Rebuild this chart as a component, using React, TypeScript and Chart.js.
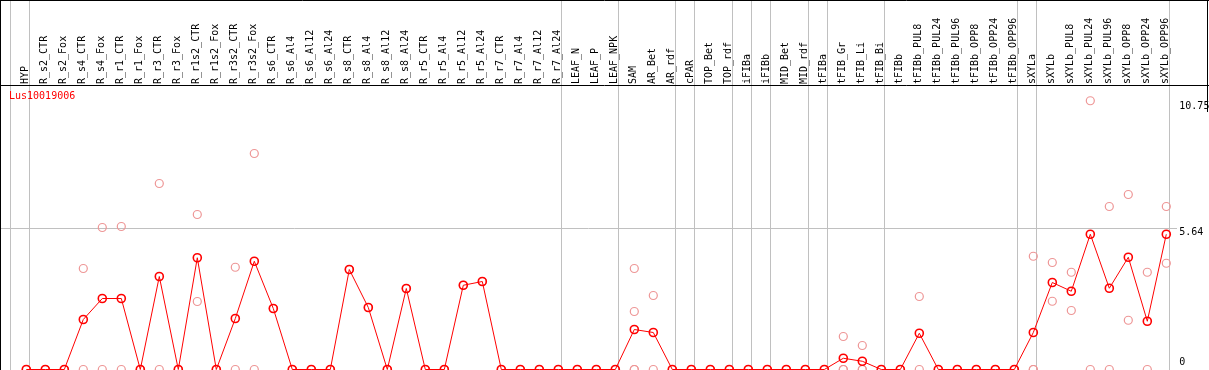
import React, { useEffect, useRef } from "react";
import { Chart, registerables } from "chart.js";

Chart.register(...registerables);

const title = "Lus10019006";

const categories = [
  "HYP", "R_s2_CTR", "R_s2_Fox", "R_s4_CTR", "R_s4_Fox", "R_r1_CTR", "R_r1_Fox", "R_r3_CTR", "R_r3_Fox",
  "R_r1s2_CTR", "R_r1s2_Fox", "R_r3s2_CTR", "R_r3s2_Fox", "R_s6_CTR", "R_s6_Al4", "R_s6_Al12", "R_s6_Al24",
  "R_s8_CTR", "R_s8_Al4", "R_s8_Al12", "R_s8_Al24", "R_r5_CTR", "R_r5_Al4", "R_r5_Al12", "R_r5_Al24",
  "R_r7_CTR", "R_r7_Al4", "R_r7_Al12", "R_r7_Al24", "LEAF_N", "LEAF_P", "LEAF_NPK", "SAM", "AR_Bet", "AR_rdf",
  "cPAR", "TOP_Bet", "TOP_rdf", "iFIBa", "iFIBb", "MID_Bet", "MID_rdf", "tFIBa", "tFIB_Gr", "tFIB_Li", "tFIB_Bi",
  "tFIBb", "tFIBb_PUL8", "tFIBb_PUL24", "tFIBb_PUL96", "tFIBb_OPP8", "tFIBb_OPP24", "tFIBb_OPP96",
  "sXYLa", "sXYLb", "sXYLb_PUL8", "sXYLb_PUL24", "sXYLb_PUL96", "sXYLb_OPP8", "sXYLb_OPP24", "sXYLb_OPP96",
];

const meanValues = [
  0, 0, 0, 2.0, 2.84, 2.84, 0, 3.72, 0,
  4.47, 0, 2.04, 4.33, 2.44, 0, 0, 0,
  4.0, 2.48, 0, 3.24, 0, 0, 3.37, 3.52,
  0, 0, 0, 0, 0, 0, 0, 1.6, 1.48, 0,
  0, 0, 0, 0, 0, 0, 0, 0, 0.45, 0.33, 0,
  0, 1.45, 0, 0, 0, 0, 0,
  1.48, 3.48, 3.13, 5.41, 3.25, 4.49, 1.93, 5.41,
];

const replicateValues: number[][] = [
  [0], [0], [0], [4.04, 0], [5.68, 0], [5.72, 0], [0], [7.44, 0], [0],
  [6.2, 2.72], [0], [4.09, 0], [8.64, 0], [2.44], [0], [0], [0],
  [4.0], [2.48], [0], [3.24], [0], [0], [3.37], [3.52],
  [0], [0], [0], [0], [0], [0], [0], [4.04, 2.32, 0, 0], [2.96, 0], [0],
  [0], [0], [0], [0], [0], [0], [0], [0], [1.32, 0, 0], [0.96, 0, 0], [0],
  [0], [2.92, 0], [0], [0], [0], [0], [0],
  [4.53, 0, 0], [4.28, 2.73], [3.89, 2.36], [10.75, 0], [6.52, 0], [7.0, 1.97], [3.89, 0], [6.52, 4.25],
];

// index of last category in each group (group separators drawn right after)
const groupEnds = [-1, 0, 28, 31, 34, 35, 37, 38, 39, 41, 42, 45, 52, 53, 60];

const yTickValues = [0, 5.64, 10.75];
const yGridValues = [5.64];

const FONT = "10px 'DejaVu Sans Mono', monospace";

const decorPlugin = {
  id: "decor",
  beforeDatasetsDraw(chart: any) {
    const ctx = chart.ctx;
    const xs = chart.scales.x;
    const ys = chart.scales.y;
    const W = chart.width;
    const H = chart.height;
    ctx.save();
    ctx.strokeStyle = "#c0c0c0";
    ctx.lineWidth = 1;
    groupEnds.forEach((g) => {
      const px = Math.round(xs.getPixelForValue(g) + 4) - 0.5;
      ctx.beginPath();
      ctx.moveTo(px, 0);
      ctx.lineTo(px, H);
      ctx.stroke();
    });
    const rightEdge = Math.round(xs.getPixelForValue(60) + 4);
    yGridValues.forEach((v) => {
      const py = Math.round(ys.getPixelForValue(v)) - 0.5;
      ctx.beginPath();
      ctx.moveTo(0, py);
      ctx.lineTo(rightEdge + 7, py);
      ctx.stroke();
    });
    // frame
    ctx.strokeStyle = "#000";
    ctx.beginPath();
    ctx.moveTo(0.5, 0);
    ctx.lineTo(0.5, H);
    ctx.moveTo(0, 0.5);
    ctx.lineTo(W, 0.5);
    ctx.moveTo(0, 85.5);
    ctx.lineTo(W, 85.5);
    ctx.moveTo(W - 1.5, 0);
    ctx.lineTo(W - 1.5, 112);
    const zy = Math.round(ys.getPixelForValue(0)) + 0.5;
    ctx.moveTo(0, zy);
    ctx.lineTo(rightEdge, zy);
    ctx.stroke();
    ctx.restore();
  },
  afterDatasetsDraw(chart: any) {
    const ctx = chart.ctx;
    const xs = chart.scales.x;
    const ys = chart.scales.y;
    ctx.save();
    ctx.font = FONT;
    ctx.fillStyle = "#000";
    categories.forEach((c, i) => {
      const px = xs.getPixelForValue(i);
      ctx.save();
      ctx.translate(px - 0.5, 84);
      ctx.rotate(-Math.PI / 2);
      ctx.textAlign = "left";
      ctx.textBaseline = "middle";
      ctx.fillText(c, 0, 0);
      ctx.restore();
    });
    // y tick labels
    const lx = xs.getPixelForValue(60) + 13;
    yTickValues.forEach((v) => {
      const py = ys.getPixelForValue(v);
      ctx.textAlign = "left";
      if (v === 0) {
        ctx.textBaseline = "bottom";
        ctx.fillText(String(v), lx, py - 2);
      } else {
        ctx.textBaseline = "top";
        ctx.fillText(String(v), lx, py + (v === 10.75 ? 1 : -1));
      }
    });
    // title
    ctx.fillStyle = "#ff0000";
    ctx.textAlign = "left";
    ctx.textBaseline = "top";
    ctx.fillText(title, 9, 91);
    ctx.restore();
  },
};

export default function App() {
  const ref = useRef<HTMLCanvasElement>(null);
  useEffect(() => {
    document.body.style.margin = "0";
    const meanPoints = meanValues.map((v, i) => ({ x: i, y: v }));
    const repPoints: { x: number; y: number }[] = [];
    replicateValues.forEach((arr, i) => arr.forEach((v) => repPoints.push({ x: i, y: v })));
    const chart = new Chart(ref.current as HTMLCanvasElement, {
      type: "line",
      data: {
        datasets: [
          {
            type: "scatter",
            label: "replicates",
            data: repPoints,
            showLine: false,
            pointStyle: "circle",
            pointRadius: 4,
            pointBorderWidth: 1.2,
            pointBorderColor: "rgb(238,150,150)",
            pointBackgroundColor: "rgba(0,0,0,0)",
            clip: false,
            order: 2,
          } as any,
          {
            type: "line",
            label: "mean",
            data: meanPoints,
            borderColor: "#ff0000",
            borderWidth: 1,
            pointStyle: "circle",
            pointRadius: 4,
            pointBorderWidth: 1.6,
            pointBorderColor: "#ff0000",
            pointBackgroundColor: "rgba(0,0,0,0)",
            tension: 0,
            clip: false,
            order: 1,
          } as any,
        ],
      },
      options: {
        animation: false,
        responsive: false,
        maintainAspectRatio: false,
        events: [],
        layout: { padding: 0, autoPadding: false },
        plugins: { legend: { display: false }, tooltip: { enabled: false }, title: { display: false } },
        scales: {
          x: { type: "linear", display: false, min: -1.384, max: 62.247 },
          y: { type: "linear", display: false, min: -0.02, max: 14.78 },
        },
      },
      plugins: [decorPlugin],
    });
    return () => chart.destroy();
  }, []);
  return (
    <div style={{ position: "absolute", left: 0, top: 0, width: 1209, height: 370, background: "#fff" }}>
      <canvas ref={ref} width={1209} height={370} style={{ display: "block" }} />
    </div>
  );
}
